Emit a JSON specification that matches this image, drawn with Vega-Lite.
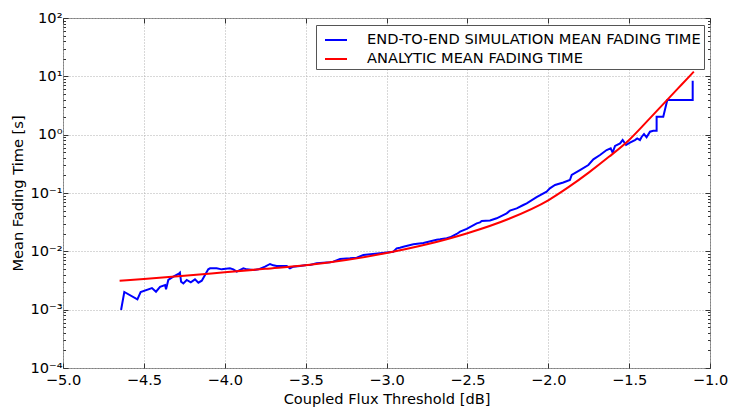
{
  "$schema": "https://vega.github.io/schema/vega-lite/v6.json",
  "width": 647,
  "height": 350,
  "autosize": {"type": "none"},
  "padding": {"left": 63, "top": 18, "right": 20, "bottom": 39},
  "background": "white",
  "config": {
    "font": "DejaVu Sans",
    "view": {"stroke": "#808080", "strokeWidth": 1},
    "axis": {
      "labelFont": "DejaVu Sans",
      "titleFont": "DejaVu Sans",
      "labelFontSize": 14.6,
      "titleFontSize": 14.6,
      "titleFontWeight": "normal",
      "labelColor": "#000000",
      "titleColor": "#000000",
      "domain": false,
      "tickColor": "#333333",
      "gridColor": "#b0b0b0",
      "gridDash": [1, 2],
      "gridWidth": 1
    }
  },
  "data": {
    "values": [
      {"s": "sim", "i": 1, "x": -4.641, "y": 0.000986},
      {"s": "sim", "i": 2, "x": -4.621, "y": 0.002009},
      {"s": "sim", "i": 3, "x": -4.540, "y": 0.001503},
      {"s": "sim", "i": 4, "x": -4.520, "y": 0.001995},
      {"s": "sim", "i": 5, "x": -4.450, "y": 0.002344},
      {"s": "sim", "i": 6, "x": -4.425, "y": 0.002032},
      {"s": "sim", "i": 7, "x": -4.400, "y": 0.002455},
      {"s": "sim", "i": 8, "x": -4.369, "y": 0.002649},
      {"s": "sim", "i": 9, "x": -4.363, "y": 0.002234},
      {"s": "sim", "i": 10, "x": -4.349, "y": 0.003228},
      {"s": "sim", "i": 11, "x": -4.318, "y": 0.003673},
      {"s": "sim", "i": 12, "x": -4.281, "y": 0.004198},
      {"s": "sim", "i": 13, "x": -4.277, "y": 0.004305},
      {"s": "sim", "i": 14, "x": -4.270, "y": 0.003013},
      {"s": "sim", "i": 15, "x": -4.256, "y": 0.002825},
      {"s": "sim", "i": 16, "x": -4.235, "y": 0.003228},
      {"s": "sim", "i": 17, "x": -4.210, "y": 0.002951},
      {"s": "sim", "i": 18, "x": -4.184, "y": 0.003311},
      {"s": "sim", "i": 19, "x": -4.163, "y": 0.002904},
      {"s": "sim", "i": 20, "x": -4.142, "y": 0.003141},
      {"s": "sim", "i": 21, "x": -4.122, "y": 0.003926},
      {"s": "sim", "i": 22, "x": -4.102, "y": 0.004909},
      {"s": "sim", "i": 23, "x": -4.091, "y": 0.005105},
      {"s": "sim", "i": 24, "x": -4.050, "y": 0.005105},
      {"s": "sim", "i": 25, "x": -4.019, "y": 0.004909},
      {"s": "sim", "i": 26, "x": -3.968, "y": 0.005105},
      {"s": "sim", "i": 27, "x": -3.947, "y": 0.004909},
      {"s": "sim", "i": 28, "x": -3.926, "y": 0.004477},
      {"s": "sim", "i": 29, "x": -3.885, "y": 0.005105},
      {"s": "sim", "i": 30, "x": -3.864, "y": 0.004909},
      {"s": "sim", "i": 31, "x": -3.823, "y": 0.004786},
      {"s": "sim", "i": 32, "x": -3.792, "y": 0.004909},
      {"s": "sim", "i": 33, "x": -3.751, "y": 0.005458},
      {"s": "sim", "i": 34, "x": -3.720, "y": 0.006067},
      {"s": "sim", "i": 35, "x": -3.700, "y": 0.005754},
      {"s": "sim", "i": 36, "x": -3.679, "y": 0.005598},
      {"s": "sim", "i": 37, "x": -3.638, "y": 0.005598},
      {"s": "sim", "i": 38, "x": -3.617, "y": 0.005598},
      {"s": "sim", "i": 39, "x": -3.597, "y": 0.005105},
      {"s": "sim", "i": 40, "x": -3.576, "y": 0.005458},
      {"s": "sim", "i": 41, "x": -3.535, "y": 0.005598},
      {"s": "sim", "i": 42, "x": -3.494, "y": 0.005834},
      {"s": "sim", "i": 43, "x": -3.473, "y": 0.005834},
      {"s": "sim", "i": 44, "x": -3.432, "y": 0.006223},
      {"s": "sim", "i": 45, "x": -3.349, "y": 0.006486},
      {"s": "sim", "i": 46, "x": -3.329, "y": 0.006653},
      {"s": "sim", "i": 47, "x": -3.287, "y": 0.007379},
      {"s": "sim", "i": 48, "x": -3.226, "y": 0.007586},
      {"s": "sim", "i": 49, "x": -3.184, "y": 0.007780},
      {"s": "sim", "i": 50, "x": -3.143, "y": 0.008650},
      {"s": "sim", "i": 51, "x": -3.040, "y": 0.009247},
      {"s": "sim", "i": 52, "x": -2.958, "y": 0.009863},
      {"s": "sim", "i": 53, "x": -2.937, "y": 0.01125},
      {"s": "sim", "i": 54, "x": -2.917, "y": 0.01156},
      {"s": "sim", "i": 55, "x": -2.896, "y": 0.01202},
      {"s": "sim", "i": 56, "x": -2.834, "y": 0.01324},
      {"s": "sim", "i": 57, "x": -2.772, "y": 0.01387},
      {"s": "sim", "i": 58, "x": -2.690, "y": 0.01585},
      {"s": "sim", "i": 59, "x": -2.669, "y": 0.01607},
      {"s": "sim", "i": 60, "x": -2.628, "y": 0.01671},
      {"s": "sim", "i": 61, "x": -2.607, "y": 0.01738},
      {"s": "sim", "i": 62, "x": -2.566, "y": 0.01982},
      {"s": "sim", "i": 63, "x": -2.545, "y": 0.02173},
      {"s": "sim", "i": 64, "x": -2.504, "y": 0.02427},
      {"s": "sim", "i": 65, "x": -2.442, "y": 0.03020},
      {"s": "sim", "i": 66, "x": -2.422, "y": 0.03141},
      {"s": "sim", "i": 67, "x": -2.411, "y": 0.03311},
      {"s": "sim", "i": 68, "x": -2.360, "y": 0.03388},
      {"s": "sim", "i": 69, "x": -2.319, "y": 0.03681},
      {"s": "sim", "i": 70, "x": -2.257, "y": 0.04477},
      {"s": "sim", "i": 71, "x": -2.237, "y": 0.04977},
      {"s": "sim", "i": 72, "x": -2.195, "y": 0.05458},
      {"s": "sim", "i": 73, "x": -2.154, "y": 0.06223},
      {"s": "sim", "i": 74, "x": -2.133, "y": 0.06653},
      {"s": "sim", "i": 75, "x": -2.072, "y": 0.08511},
      {"s": "sim", "i": 76, "x": -2.010, "y": 0.1054},
      {"s": "sim", "i": 77, "x": -1.990, "y": 0.1202},
      {"s": "sim", "i": 78, "x": -1.958, "y": 0.1371},
      {"s": "sim", "i": 79, "x": -1.907, "y": 0.1514},
      {"s": "sim", "i": 80, "x": -1.866, "y": 0.1671},
      {"s": "sim", "i": 81, "x": -1.855, "y": 0.2037},
      {"s": "sim", "i": 82, "x": -1.804, "y": 0.2477},
      {"s": "sim", "i": 83, "x": -1.752, "y": 0.3020},
      {"s": "sim", "i": 84, "x": -1.721, "y": 0.3776},
      {"s": "sim", "i": 85, "x": -1.680, "y": 0.4477},
      {"s": "sim", "i": 86, "x": -1.639, "y": 0.5458},
      {"s": "sim", "i": 87, "x": -1.614, "y": 0.5834},
      {"s": "sim", "i": 88, "x": -1.602, "y": 0.4909},
      {"s": "sim", "i": 89, "x": -1.587, "y": 0.6397},
      {"s": "sim", "i": 90, "x": -1.556, "y": 0.7096},
      {"s": "sim", "i": 91, "x": -1.540, "y": 0.8091},
      {"s": "sim", "i": 92, "x": -1.519, "y": 0.6653},
      {"s": "sim", "i": 93, "x": -1.495, "y": 0.7295},
      {"s": "sim", "i": 94, "x": -1.464, "y": 0.8091},
      {"s": "sim", "i": 95, "x": -1.450, "y": 0.8650},
      {"s": "sim", "i": 96, "x": -1.433, "y": 0.8091},
      {"s": "sim", "i": 97, "x": -1.422, "y": 0.9226},
      {"s": "sim", "i": 98, "x": -1.408, "y": 1.026},
      {"s": "sim", "i": 99, "x": -1.392, "y": 0.8995},
      {"s": "sim", "i": 100, "x": -1.371, "y": 1.125},
      {"s": "sim", "i": 101, "x": -1.351, "y": 1.169},
      {"s": "sim", "i": 102, "x": -1.330, "y": 1.169},
      {"s": "sim", "i": 103, "x": -1.330, "y": 2.032},
      {"s": "sim", "i": 104, "x": -1.289, "y": 2.032},
      {"s": "sim", "i": 105, "x": -1.264, "y": 3.926},
      {"s": "sim", "i": 106, "x": -1.107, "y": 3.926},
      {"s": "sim", "i": 107, "x": -1.107, "y": 8.414},
      {"s": "analytic", "i": 1, "x": -4.65, "y": 0.003126},
      {"s": "analytic", "i": 2, "x": -4.5, "y": 0.003357},
      {"s": "analytic", "i": 3, "x": -4.25, "y": 0.003802},
      {"s": "analytic", "i": 4, "x": -4.0, "y": 0.004365},
      {"s": "analytic", "i": 5, "x": -3.75, "y": 0.005012},
      {"s": "analytic", "i": 6, "x": -3.5, "y": 0.005754},
      {"s": "analytic", "i": 7, "x": -3.25, "y": 0.007079},
      {"s": "analytic", "i": 8, "x": -3.0, "y": 0.009333},
      {"s": "analytic", "i": 9, "x": -2.75, "y": 0.01318},
      {"s": "analytic", "i": 10, "x": -2.5, "y": 0.02042},
      {"s": "analytic", "i": 11, "x": -2.25, "y": 0.03548},
      {"s": "analytic", "i": 12, "x": -2.0, "y": 0.07500},
      {"s": "analytic", "i": 13, "x": -1.875, "y": 0.1259},
      {"s": "analytic", "i": 14, "x": -1.75, "y": 0.2239},
      {"s": "analytic", "i": 15, "x": -1.625, "y": 0.4169},
      {"s": "analytic", "i": 16, "x": -1.5, "y": 0.8128},
      {"s": "analytic", "i": 17, "x": -1.375, "y": 1.862},
      {"s": "analytic", "i": 18, "x": -1.25, "y": 4.365},
      {"s": "analytic", "i": 19, "x": -1.175, "y": 7.244},
      {"s": "analytic", "i": 20, "x": -1.1, "y": 12.02}
    ]
  },
  "layer": [
    {
      "transform": [{"filter": "datum.s == 'sim'"}],
      "mark": {"type": "line", "strokeWidth": 2, "clip": true},
      "encoding": {
        "x": {
          "field": "x", "type": "quantitative",
          "scale": {"domain": [-5, -1], "nice": false, "zero": false},
          "axis": {
            "orient": "bottom",
            "values": [-5, -4.5, -4, -3.5, -3, -2.5, -2, -1.5, -1],
            "format": ".1f",
            "tickSize": -5,
            "labelPadding": 9,
            "labelFlush": false,
            "labelOverlap": false,
            "grid": true,
            "title": "Coupled Flux Threshold [dB]",
            "titlePadding": 5
          }
        },
        "y": {
          "field": "y", "type": "quantitative",
          "scale": {"type": "log", "domain": [0.0001, 100], "nice": false},
          "axis": {
            "orient": "left",
            "values": [0.0001,0.0002,0.0003,0.0004,0.0005,0.0006,0.0007,0.0008,0.0009,0.001,0.002,0.003,0.004,0.005,0.006,0.007,0.008,0.009,0.01,0.02,0.03,0.04,0.05,0.06,0.07,0.08,0.09,0.1,0.2,0.3,0.4,0.5,0.6,0.7,0.8,0.9,1,2,3,4,5,6,7,8,9,10,20,30,40,50,60,70,80,90,100],
            "labelExpr": "abs(log(datum.value)/LN10 - round(log(datum.value)/LN10)) < 0.001 ? '10' + ['⁻⁴','⁻³','⁻²','⁻¹','⁰','¹','²'][round(log(datum.value)/LN10)+4] : ''",
            "tickSize": {"condition": {"test": "abs(log(datum.value)/LN10 - round(log(datum.value)/LN10)) < 0.001", "value": -5}, "value": -2.5},
            "gridOpacity": {"condition": {"test": "abs(log(datum.value)/LN10 - round(log(datum.value)/LN10)) < 0.001", "value": 1}, "value": 0},
            "labelPadding": 6,
            "labelOverlap": false,
            "labelFlush": false,
            "grid": true,
            "title": "Mean Fading Time [s]",
            "titlePadding": 4
          }
        },
        "color": {
          "field": "s", "type": "nominal",
          "scale": {"domain": ["sim", "analytic"], "range": ["#0000ff", "#ff0000"]},
          "legend": {
            "title": null,
            "orient": "none",
            "legendX": 253,
            "legendY": 7,
            "direction": "vertical",
            "fillColor": "white",
            "strokeColor": "#555555",
            "padding": 3,
            "symbolType": "stroke",
            "symbolSize": 484,
            "symbolStrokeWidth": 2,
            "symbolOffset": 5,
            "labelOffset": 19,
            "rowPadding": -4,
            "labelFont": "DejaVu Sans",
            "labelFontSize": 14.6,
            "labelColor": "#000000",
            "labelLimit": 500,
            "labelExpr": "datum.label == 'sim' ? 'END-TO-END SIMULATION MEAN FADING TIME' : 'ANALYTIC MEAN FADING TIME'"
          }
        },
        "order": {"field": "i", "type": "quantitative"}
      }
    },
    {
      "transform": [{"filter": "datum.s == 'analytic'"}],
      "mark": {"type": "line", "strokeWidth": 2, "interpolate": "monotone", "clip": true},
      "encoding": {
        "x": {
          "field": "x", "type": "quantitative",
          "axis": {
            "orient": "top",
            "values": [-5, -4.5, -4, -3.5, -3, -2.5, -2, -1.5, -1],
            "tickSize": -5,
            "labels": false,
            "grid": false,
            "title": null
          }
        },
        "y": {
          "field": "y", "type": "quantitative",
          "axis": {
            "orient": "right",
            "values": [0.0001,0.0002,0.0003,0.0004,0.0005,0.0006,0.0007,0.0008,0.0009,0.001,0.002,0.003,0.004,0.005,0.006,0.007,0.008,0.009,0.01,0.02,0.03,0.04,0.05,0.06,0.07,0.08,0.09,0.1,0.2,0.3,0.4,0.5,0.6,0.7,0.8,0.9,1,2,3,4,5,6,7,8,9,10,20,30,40,50,60,70,80,90,100],
            "tickSize": {"condition": {"test": "abs(log(datum.value)/LN10 - round(log(datum.value)/LN10)) < 0.001", "value": -5}, "value": -2.5},
            "labels": false,
            "grid": false,
            "title": null
          }
        },
        "color": {"field": "s", "type": "nominal"},
        "order": {"field": "i", "type": "quantitative"}
      }
    }
  ],
  "resolve": {"axis": {"x": "independent", "y": "independent"}}
}
